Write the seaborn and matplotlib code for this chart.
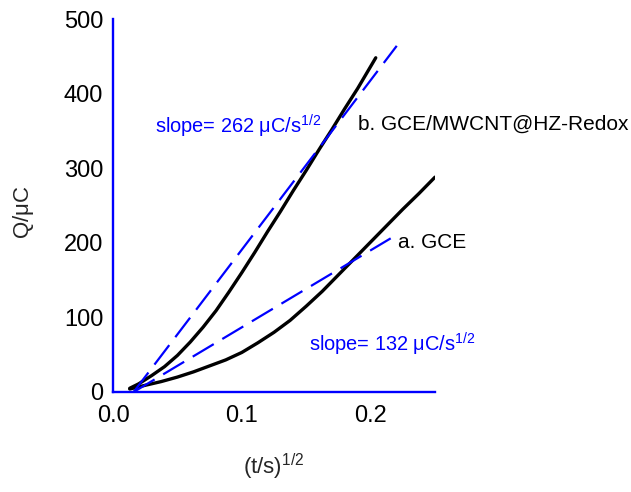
import matplotlib
matplotlib.use("Agg")
import matplotlib.pyplot as plt
import seaborn as sns
import pandas as pd

# ---- data ----
x_b = [0.013, 0.02, 0.03, 0.04, 0.05, 0.06, 0.07, 0.08, 0.09, 0.1,
       0.11, 0.12, 0.13, 0.14, 0.15, 0.16, 0.17, 0.18, 0.19, 0.204]
q_b = [5, 11, 22, 34, 49, 67, 87, 109, 134, 160,
       187, 215, 242, 270, 297, 325, 352, 380, 407, 448]

x_a = [0.013, 0.025, 0.0375, 0.05, 0.0625, 0.075, 0.0875, 0.1, 0.1125, 0.125,
       0.1375, 0.15, 0.1625, 0.175, 0.1875, 0.2, 0.2125, 0.225, 0.2375, 0.25]
q_a = [4, 9, 14, 20, 27, 35, 43, 53, 66, 80,
       96, 115, 135, 157, 179, 201, 223, 245, 266, 288]

fit_b_x = [0.016, 0.2203]
fit_b_q = [0, 464]
fit_a_x = [0.016, 0.2156]
fit_a_q = [0, 206]

x_ticks = [0.0, 0.1, 0.2]
y_ticks = [0, 100, 200, 300, 400, 500]

sns.set_style("white")
plt.rcParams['font.family'] = ['Liberation Sans', 'DejaVu Sans']
plt.rcParams['mathtext.fontset'] = 'custom'
plt.rcParams['mathtext.rm'] = 'Liberation Sans'
plt.rcParams['mathtext.it'] = 'Liberation Sans'

W, H = 631, 492
fig = plt.figure(figsize=(W/100, H/100), dpi=100)
ax = fig.add_axes([113/W, 1-392/H, (435-113)/W, (392-19)/H])

df_a = pd.DataFrame({"x": x_a, "q": q_a})
df_b = pd.DataFrame({"x": x_b, "q": q_b})
sns.lineplot(data=df_b, x="x", y="q", ax=ax, color="black", lw=2.4,
             estimator=None, solid_capstyle="round", solid_joinstyle="round")
sns.lineplot(data=df_a, x="x", y="q", ax=ax, color="black", lw=2.4,
             estimator=None, solid_capstyle="round", solid_joinstyle="round")
ax.plot(fit_b_x, fit_b_q, color="#0000ff", lw=1.6, dashes=(11, 4.5))
ax.plot(fit_a_x, fit_a_q, color="#0000ff", lw=1.6, dashes=(11, 4.5))

ax.set_xlim(0, 0.25)
ax.set_ylim(0, 500)
ax.set_xticks(x_ticks)
ax.set_xticklabels([f"{v:.1f}" for v in x_ticks])
ax.set_yticks(y_ticks)
ax.set_yticklabels([str(v) for v in y_ticks])

for s in ["top", "right"]:
    ax.spines[s].set_visible(False)
for s in ["left", "bottom"]:
    ax.spines[s].set_color("#0000ff")
    ax.spines[s].set_linewidth(1.7)

ax.tick_params(axis="both", direction="in", length=10.5, width=1.5, color="black",
               labelsize=17, labelcolor="black")
ax.tick_params(axis="x", pad=9)
ax.tick_params(axis="y", pad=7)

ax.set_xlabel(r"(t/s)$^{1/2}$", fontsize=16, va="center", ha="center")
ax.xaxis.set_label_coords(274/W, 1-467/H, transform=fig.transFigure)
ax.set_ylabel(r"Q/$\mu$C", fontsize=16, va="center", ha="center")
ax.yaxis.set_label_coords(24/W, 1-212/H, transform=fig.transFigure)

def place(px, py, s, color, size):
    fig.text(px/W, 1-py/H, s, color=color, fontsize=size, ha="left", va="baseline")

place(155, 133, r"slope= 262 $\mu$C/s$^{1/2}$", "#0000ff", 14.4)
place(309, 352, r"slope= 132 $\mu$C/s$^{1/2}$", "#0000ff", 14.4)
place(358, 130, "b. GCE/MWCNT@HZ-Redox", "black", 15)
place(398, 248, "a. GCE", "black", 15)

fig.savefig("out.png", dpi=100)
